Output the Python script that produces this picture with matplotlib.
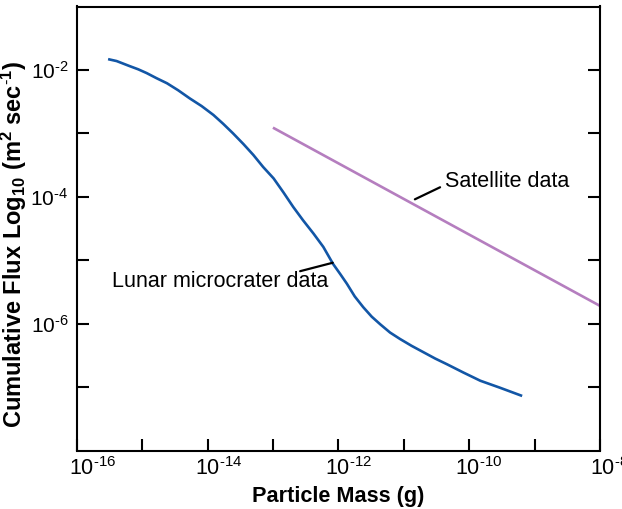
import matplotlib
matplotlib.use("Agg")
import matplotlib.pyplot as plt
import matplotlib.transforms as mtransforms
import numpy as np

plt.rcParams['font.family'] = ['Liberation Sans', 'DejaVu Sans']
plt.rcParams['mathtext.fontset'] = 'custom'
plt.rcParams['mathtext.rm'] = 'Liberation Sans'
plt.rcParams['mathtext.it'] = 'Liberation Sans:italic'
plt.rcParams['mathtext.bf'] = 'Liberation Sans:bold'

# Lunar microcrater data (log10 mass [g], log10 flux)
lunar_log_mass = [-15.52, -15.39, -15.29, -15.19, -15.06, -14.93, -14.78, -14.62,
                  -14.45, -14.27, -14.09, -13.91, -13.76, -13.61, -13.45, -13.30,
                  -13.15, -12.99, -12.84, -12.69, -12.54, -12.38, -12.23, -12.08,
                  -11.97, -11.87, -11.75, -11.62, -11.49, -11.36, -11.21, -11.06,
                  -10.88, -10.70, -10.52, -10.34, -10.09, -9.83, -9.53, -9.19]
lunar_log_flux = [-1.83, -1.86, -1.90, -1.94, -1.99, -2.05, -2.13, -2.21,
                  -2.32, -2.45, -2.57, -2.71, -2.85, -3.00, -3.17, -3.34,
                  -3.53, -3.71, -3.93, -4.16, -4.37, -4.58, -4.79, -5.06,
                  -5.22, -5.37, -5.57, -5.74, -5.89, -6.01, -6.14, -6.24,
                  -6.35, -6.45, -6.55, -6.64, -6.77, -6.90, -7.01, -7.14]
# Satellite data
sat_log_mass = [-13.00, -8.00]
sat_log_flux = [-2.91, -5.72]

xtick_exps = [-16, -15, -14, -13, -12, -11, -10, -9, -8]
xtick_labels = [r'$10^{\text{-}16}$', '', r'$10^{\text{-}14}$', '', r'$10^{\text{-}12}$', '',
                r'$10^{\text{-}10}$', '', r'$10^{\text{-}8}$']
ytick_exps = [-7, -6, -5, -4, -3, -2]
ytick_labels = ['', r'$10^{\text{-}6}$', '', r'$10^{\text{-}4}$', '', r'$10^{\text{-}2}$']

blue = '#1256a6'
purple = '#b57ebf'

fig = plt.figure(figsize=(6.22, 5.09), dpi=100)
ax = fig.add_axes([76.7/622, 1 - 450.5/509, (600 - 76.7)/622, (450.5 - 6.5)/509])

ax.plot(10.0**np.array(lunar_log_mass), 10.0**np.array(lunar_log_flux), color=blue, lw=1.9,
        solid_capstyle='butt', solid_joinstyle='round')
ax.plot(10.0**np.array(sat_log_mass), 10.0**np.array(sat_log_flux), color=purple, lw=1.9,
        solid_capstyle='butt')

ax.set_xscale('log')
ax.set_yscale('log')
ax.set_xlim(1e-16, 1e-8)
ax.set_ylim(1e-8, 1e-1)

ax.set_xticks([10.0**e for e in xtick_exps])
ax.set_xticklabels(xtick_labels)
ax.set_yticks([10.0**e for e in ytick_exps])
ax.set_yticklabels(ytick_labels)
ax.minorticks_off()

ax.tick_params(axis='x', direction='in', length=8.6, width=1.5, labelsize=15.5, pad=5, top=False)
ax.tick_params(axis='y', direction='in', length=8.6, width=1.5, labelsize=15, pad=6, right=True)
for s in ax.spines.values():
    s.set_linewidth(1.5)

offsets = [16, 0, 11, 0, 10.5, 0, 10, 0, 9]
for lab, dx in zip(ax.get_xticklabels(), offsets):
    lab.set_transform(lab.get_transform() + mtransforms.ScaledTranslation(dx/100, 0, fig.dpi_scale_trans))

ax.set_xlabel('Particle Mass (g)', fontsize=15.6, fontweight='bold', labelpad=4)
ax.set_ylabel(r'Cumulative Flux Log$_{\mathbf{10}}$ (m$^{\mathbf{2}}$ sec$^{\mathbf{\text{-}1}}$)',
              fontsize=17, fontweight='bold')
ax.yaxis.set_label_coords(-0.0905, 0.465)

# annotations
ax.annotate('', xy=(10**-10.83, 10**-4.04), xytext=(10**-10.445, 10**-3.85),
            arrowprops=dict(arrowstyle='-', color='black', lw=1.6, shrinkA=0, shrinkB=0))
ax.text(10**-10.37, 10**-3.755, 'Satellite data', fontsize=15.5, ha='left', va='center')
ax.annotate('', xy=(10**-12.086, 10**-5.04), xytext=(10**-12.584, 10**-5.173),
            arrowprops=dict(arrowstyle='-', color='black', lw=1.6, shrinkA=0, shrinkB=0))
ax.text(10**-15.46, 10**-5.336, 'Lunar microcrater data', fontsize=15.5, ha='left', va='center')

fig.savefig('out.png', dpi=100)
